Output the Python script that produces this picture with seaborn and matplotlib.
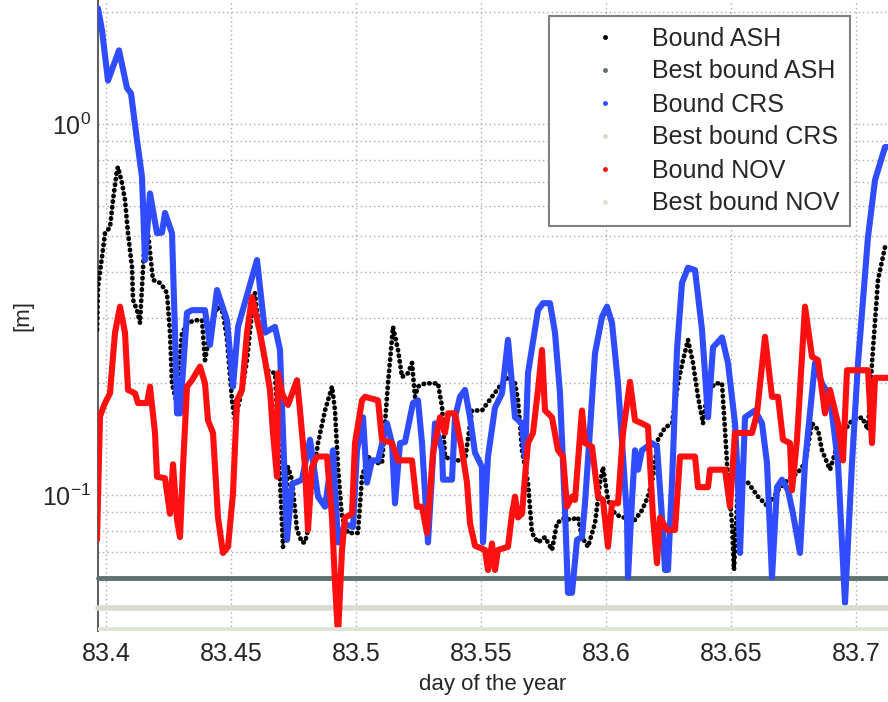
import numpy as np
import pandas as pd
import matplotlib
matplotlib.use("Agg")
import matplotlib.pyplot as plt
from matplotlib.lines import Line2D
from matplotlib.ticker import LogLocator, NullFormatter, FixedLocator
import seaborn as sns

# ---------------- data ----------------
ash_day = [83.3964, 83.3968, 83.3984, 83.3996, 83.4016, 83.4028, 83.4044, 83.4048, 83.4064, 83.4076,
           83.4088, 83.4104, 83.4108, 83.4124, 83.4136, 83.4156, 83.4168, 83.4188, 83.4216, 83.4228,
           83.4244, 83.4256, 83.4264, 83.4280, 83.4304, 83.4328, 83.4356, 83.4384, 83.4396, 83.4416,
           83.4444, 83.4468, 83.4484, 83.4504, 83.4516, 83.4544, 83.4564, 83.4584, 83.4596, 83.4608,
           83.4628, 83.4644, 83.4676, 83.4688, 83.4696, 83.4708, 83.4728, 83.4744, 83.4764, 83.4784,
           83.4796, 83.4808, 83.4824, 83.4848, 83.4876, 83.4904, 83.4916, 83.4928, 83.4944, 83.4968,
           83.5008, 83.5024, 83.5048, 83.5076, 83.5104, 83.5116, 83.5128, 83.5148, 83.5168, 83.5184,
           83.5208, 83.5224, 83.5236, 83.5248, 83.5276, 83.5328, 83.5344, 83.5356, 83.5384, 83.5436,
           83.5464, 83.5504, 83.5544, 83.5584, 83.5608, 83.5636, 83.5648, 83.5664, 83.5688, 83.5704,
           83.5728, 83.5756, 83.5784, 83.5804, 83.5836, 83.5856, 83.5888, 83.5904, 83.5928, 83.5956,
           83.5976, 83.5988, 83.6008, 83.6036, 83.6064, 83.6088, 83.6116, 83.6144, 83.6168, 83.6188,
           83.6208, 83.6236, 83.6264, 83.6288, 83.6308, 83.6328, 83.6348, 83.6368, 83.6388, 83.6404,
           83.6436, 83.6464, 83.6476, 83.6488, 83.6504, 83.6512, 83.6528, 83.6568, 83.6608, 83.6648,
           83.6688, 83.6728, 83.6768, 83.6796, 83.6824, 83.6848, 83.6864, 83.6896, 83.6928, 83.6956,
           83.6984, 83.7024, 83.7048, 83.7064, 83.7088, 83.7116, 83.7136]
ash_bound = [0.279, 0.364, 0.438, 0.508, 0.527, 0.624, 0.752, 0.766, 0.693, 0.624,
             0.508, 0.411, 0.336, 0.315, 0.291, 0.508, 0.508, 0.380, 0.373, 0.364,
             0.350, 0.274, 0.200, 0.180, 0.274, 0.291, 0.296, 0.296, 0.231, 0.274,
             0.322, 0.310, 0.262, 0.180, 0.159, 0.192, 0.231, 0.310, 0.350, 0.296,
             0.241, 0.217, 0.213, 0.147, 0.110, 0.0725, 0.119, 0.110, 0.0805, 0.0745,
             0.0745, 0.0805, 0.108, 0.138, 0.169, 0.196, 0.169, 0.119, 0.087, 0.079,
             0.079, 0.112, 0.127, 0.122, 0.122, 0.156, 0.200, 0.284, 0.246, 0.208,
             0.213, 0.227, 0.184, 0.196, 0.200, 0.200, 0.173, 0.127, 0.124, 0.124,
             0.169, 0.169, 0.184, 0.200, 0.208, 0.200, 0.180, 0.132, 0.108, 0.079,
             0.0745, 0.077, 0.0711, 0.084, 0.087, 0.0857, 0.087, 0.077, 0.0725, 0.084,
             0.108, 0.119, 0.097, 0.089, 0.087, 0.087, 0.0857, 0.091, 0.099, 0.112,
             0.141, 0.152, 0.156, 0.200, 0.231, 0.262, 0.227, 0.184, 0.156, 0.188,
             0.200, 0.200, 0.150, 0.110, 0.084, 0.0628, 0.108, 0.108, 0.099, 0.093,
             0.103, 0.110, 0.115, 0.122, 0.156, 0.150, 0.132, 0.117, 0.138, 0.150,
             0.159, 0.162, 0.150, 0.227, 0.380, 0.466, 0.460]

crs_day = [83.3968, 83.3984, 83.4008, 83.4052, 83.4084, 83.4100, 83.4124, 83.4144, 83.4156, 83.4176,
           83.4204, 83.4224, 83.4236, 83.4264, 83.4276, 83.4284, 83.4296, 83.4324, 83.4344, 83.4396,
           83.4416, 83.4444, 83.4484, 83.4508, 83.4528, 83.4604, 83.4636, 83.4676, 83.4696, 83.4708,
           83.4724, 83.4744, 83.4784, 83.4816, 83.4848, 83.4876, 83.4908, 83.4928, 83.4956, 83.4988,
           83.5004, 83.5028, 83.5044, 83.5064, 83.5088, 83.5124, 83.5144, 83.5156, 83.5176, 83.5196,
           83.5228, 83.5248, 83.5264, 83.5288, 83.5316, 83.5344, 83.5348, 83.5384, 83.5396, 83.5416,
           83.5436, 83.5456, 83.5476, 83.5504, 83.5508, 83.5528, 83.5556, 83.5584, 83.5608, 83.5636,
           83.5664, 83.5676, 83.5688, 83.5728, 83.5748, 83.5776, 83.5796, 83.5816, 83.5836, 83.5848,
           83.5864, 83.5884, 83.5904, 83.5916, 83.5936, 83.5956, 83.5984, 83.6004, 83.6024, 83.6048,
           83.6068, 83.6084, 83.6088, 83.6104, 83.6116, 83.6128, 83.6144, 83.6184, 83.6204, 83.6224,
           83.6236, 83.6248, 83.6264, 83.6284, 83.6304, 83.6328, 83.6356, 83.6384, 83.6408, 83.6428,
           83.6464, 83.6488, 83.6516, 83.6528, 83.6536, 83.6556, 83.6596, 83.6624, 83.6644, 83.6664,
           83.6684, 83.6704, 83.6728, 83.6748, 83.6776, 83.6796, 83.6836, 83.6864, 83.6896, 83.6928,
           83.6956, 83.6984, 83.7008, 83.7048, 83.7076, 83.7116, 83.7136]
crs_bound = [2.05, 1.79, 1.31, 1.58, 1.25, 1.21, 0.906, 0.72, 0.43, 0.65,
             0.508, 0.51, 0.576, 0.508, 0.274, 0.166, 0.166, 0.31, 0.315, 0.315,
             0.254, 0.357, 0.296, 0.196, 0.284, 0.430, 0.274, 0.284, 0.246, 0.147,
             0.0757, 0.107, 0.110, 0.141, 0.099, 0.093, 0.132, 0.0745, 0.0835, 0.082,
             0.132, 0.162, 0.108, 0.124, 0.124, 0.156, 0.138, 0.095, 0.138, 0.139,
             0.177, 0.180, 0.138, 0.0745, 0.156, 0.132, 0.110, 0.110, 0.162, 0.184,
             0.192, 0.162, 0.130, 0.119, 0.0745, 0.127, 0.172, 0.188, 0.262, 0.162,
             0.156, 0.127, 0.213, 0.315, 0.329, 0.329, 0.274, 0.188, 0.091, 0.0545,
             0.0545, 0.0757, 0.077, 0.095, 0.150, 0.241, 0.302, 0.322, 0.291, 0.200,
             0.127, 0.087, 0.060, 0.097, 0.132, 0.117, 0.132, 0.138, 0.135, 0.087,
             0.0628, 0.0628, 0.108, 0.246, 0.373, 0.410, 0.404, 0.279, 0.162, 0.250,
             0.266, 0.227, 0.156, 0.108, 0.0698, 0.162, 0.169, 0.156, 0.122, 0.060,
             0.105, 0.110, 0.103, 0.089, 0.0698, 0.122, 0.227, 0.200, 0.184, 0.122,
             0.0512, 0.122, 0.227, 0.496, 0.706, 0.867, 0.867]

nov_day = [83.3964, 83.3976, 83.3996, 83.4016, 83.4036, 83.4056, 83.4076, 83.4088, 83.4116, 83.4128,
           83.4164, 83.4176, 83.4196, 83.4204, 83.4236, 83.4256, 83.4268, 83.4284, 83.4296, 83.4308,
           83.4324, 83.4344, 83.4376, 83.4396, 83.4408, 83.4428, 83.4448, 83.4468, 83.4488, 83.4508,
           83.4524, 83.4544, 83.4564, 83.4584, 83.4596, 83.4616, 83.4636, 83.4656, 83.4668, 83.4684,
           83.4688, 83.4704, 83.4728, 83.4764, 83.4776, 83.4796, 83.4808, 83.4824, 83.4844, 83.4884,
           83.4904, 83.4916, 83.4928, 83.4944, 83.4956, 83.4984, 83.4996, 83.5024, 83.5036, 83.5088,
           83.5104, 83.5144, 83.5168, 83.5224, 83.5244, 83.5264, 83.5284, 83.5308, 83.5336, 83.5356,
           83.5368, 83.5396, 83.5424, 83.5444, 83.5456, 83.5476, 83.5516, 83.5528, 83.5544, 83.5556,
           83.5568, 83.5608, 83.5624, 83.5636, 83.5648, 83.5664, 83.5676, 83.5688, 83.5708, 83.5728,
           83.5744, 83.5756, 83.5784, 83.5808, 83.5828, 83.5844, 83.5864, 83.5876, 83.5904, 83.5916,
           83.5944, 83.5968, 83.5988, 83.6008, 83.6024, 83.6048, 83.6068, 83.6096, 83.6116, 83.6144,
           83.6168, 83.6188, 83.6204, 83.6216, 83.6244, 83.6276, 83.6296, 83.6356, 83.6368, 83.6408,
           83.6416, 83.6476, 83.6496, 83.6516, 83.6584, 83.6604, 83.6636, 83.6664, 83.6688, 83.6708,
           83.6736, 83.6744, 83.6764, 83.6796, 83.6824, 83.6848, 83.6876, 83.6896, 83.6928, 83.6948,
           83.6964, 83.7048, 83.7064, 83.7076, 83.7136]
nov_bound = [0.0757, 0.163, 0.177, 0.188, 0.274, 0.322, 0.274, 0.192, 0.188, 0.177,
             0.177, 0.196, 0.147, 0.112, 0.111, 0.089, 0.121, 0.0857, 0.077, 0.119,
             0.196, 0.204, 0.222, 0.200, 0.159, 0.147, 0.087, 0.0698, 0.0725, 0.101,
             0.180, 0.192, 0.274, 0.342, 0.315, 0.274, 0.231, 0.192, 0.147, 0.112,
             0.213, 0.188, 0.175, 0.204, 0.169, 0.119, 0.0805, 0.119, 0.127, 0.127,
             0.087, 0.058, 0.042, 0.0711, 0.087, 0.089, 0.138, 0.180, 0.184, 0.180,
             0.141, 0.138, 0.124, 0.124, 0.093, 0.093, 0.079, 0.130, 0.162, 0.147,
             0.166, 0.166, 0.132, 0.108, 0.084, 0.073, 0.0711, 0.0628, 0.074, 0.0628,
             0.0711, 0.0725, 0.089, 0.099, 0.087, 0.089, 0.112, 0.138, 0.147, 0.192,
             0.246, 0.169, 0.162, 0.132, 0.127, 0.093, 0.099, 0.097, 0.169, 0.138,
             0.135, 0.099, 0.097, 0.0725, 0.095, 0.095, 0.147, 0.202, 0.159, 0.156,
             0.153, 0.087, 0.0655, 0.087, 0.0805, 0.0805, 0.127, 0.127, 0.105, 0.105,
             0.117, 0.117, 0.093, 0.147, 0.147, 0.166, 0.267, 0.184, 0.184, 0.141,
             0.138, 0.103, 0.141, 0.322, 0.236, 0.231, 0.166, 0.192, 0.156, 0.124,
             0.217, 0.217, 0.138, 0.207, 0.207]

best_bounds = [0.0596, 0.0495, 0.0433]          # ASH, CRS, NOV
series_labels = ["Bound ASH", "Best bound ASH", "Bound CRS",
                 "Best bound CRS", "Bound NOV", "Best bound NOV"]
x_ticks = [83.4, 83.45, 83.5, 83.55, 83.6, 83.65, 83.7]
x_tick_labels = ["83.4", "83.45", "83.5", "83.55", "83.6", "83.65", "83.7"]

# ---------------- style ----------------
sns.set_style("white")
plt.rcParams["font.family"] = ["Liberation Sans", "DejaVu Sans"]
plt.rcParams["mathtext.fontset"] = "custom"
plt.rcParams["mathtext.rm"] = "Liberation Sans"
plt.rcParams["mathtext.it"] = "Liberation Sans:italic"
plt.rcParams["mathtext.bf"] = "Liberation Sans:bold"

C_ASH = "#000000"
C_ASH_BEST = "#5d716e"
C_CRS = "#2f4dff"
C_CRS_BEST = "#d6ddcd"
C_NOV = "#ff1010"
C_NOV_BEST = "#dde3d5"

fig = plt.figure(figsize=(8.88, 7.02), dpi=100)
ax = fig.add_axes([98 / 888, 71 / 702, 790 / 888, 631 / 702])

df_ash = pd.DataFrame({"day": ash_day, "m": ash_bound})
df_crs = pd.DataFrame({"day": crs_day, "m": crs_bound})
df_nov = pd.DataFrame({"day": nov_day, "m": nov_bound})

sns.lineplot(data=df_ash, x="day", y="m", ax=ax, color=C_ASH, lw=3.4,
             estimator=None, sort=False, linestyle=(0, (0.1, 1.1)),
             dash_capstyle="round", zorder=3)
ax.axhline(best_bounds[0], color=C_ASH_BEST, lw=3.5, zorder=4, clip_on=False)
sns.lineplot(data=df_crs, x="day", y="m", ax=ax, color=C_CRS, lw=4.4,
             estimator=None, sort=False, zorder=5,
             solid_joinstyle="round", solid_capstyle="round")
ax.axhline(best_bounds[1], color=C_CRS_BEST, lw=4, zorder=6, clip_on=False)
sns.lineplot(data=df_nov, x="day", y="m", ax=ax, color=C_NOV, lw=4.4,
             estimator=None, sort=False, zorder=7,
             solid_joinstyle="round", solid_capstyle="round")
ax.axhline(best_bounds[2], color=C_NOV_BEST, lw=4, zorder=8)

ax.set_yscale("log")
ax.set_xlim(83.3968, 83.7128)
ax.set_ylim(0.0430, 2.16)

ax.xaxis.set_major_locator(FixedLocator(x_ticks))
ax.set_xticklabels(x_tick_labels)
ax.yaxis.set_major_locator(LogLocator(base=10))
ax.yaxis.set_minor_locator(LogLocator(base=10, subs=np.arange(2, 10)))
ax.yaxis.set_minor_formatter(NullFormatter())

ax.grid(True, which="major", axis="both", color="#aaaaaa",
        linestyle=(0, (1.0, 2.2)), lw=1.0)
ax.grid(True, which="minor", axis="y", color="#aaaaaa",
        linestyle=(0, (1.0, 2.2)), lw=1.0)
ax.set_axisbelow(True)

for s in ["top", "right", "bottom"]:
    ax.spines[s].set_visible(False)
ax.spines["left"].set_color("#606060")
ax.spines["left"].set_linewidth(1.5)
ax.spines["left"].set_zorder(2)

ax.tick_params(axis="both", which="major", direction="in", length=5,
               width=1.2, color="#606060", labelsize=18, pad=8)
ax.tick_params(axis="y", which="minor", direction="in", length=3,
               width=1.0, color="#606060")
ax.tick_params(axis="y", which="major", pad=5)

ax.set_xlabel("day of the year", fontsize=16, labelpad=6)
ax.set_ylabel("[m]", fontsize=16, labelpad=6)

handles = [
    Line2D([], [], color=C_ASH, marker=".", ms=5, ls="none"),
    Line2D([], [], color=C_ASH_BEST, marker=".", ms=5, ls="none"),
    Line2D([], [], color=C_CRS, marker=".", ms=5, ls="none"),
    Line2D([], [], color=C_CRS_BEST, marker=".", ms=5, ls="none"),
    Line2D([], [], color=C_NOV, marker=".", ms=5, ls="none"),
    Line2D([], [], color=C_NOV_BEST, marker=".", ms=5, ls="none"),
]
leg = ax.legend(handles, series_labels, loc="upper left",
                bbox_to_anchor=(549 / 888, 1 - 16 / 702), bbox_transform=fig.transFigure,
                fontsize=18, frameon=True, fancybox=False, framealpha=1,
                edgecolor="#808080", handlelength=3.6, handletextpad=0.1,
                labelspacing=0.36, borderpad=0.42, borderaxespad=0)
leg.get_frame().set_linewidth(1.5)
leg.set_zorder(20)

fig.savefig("out.png", dpi=100)
